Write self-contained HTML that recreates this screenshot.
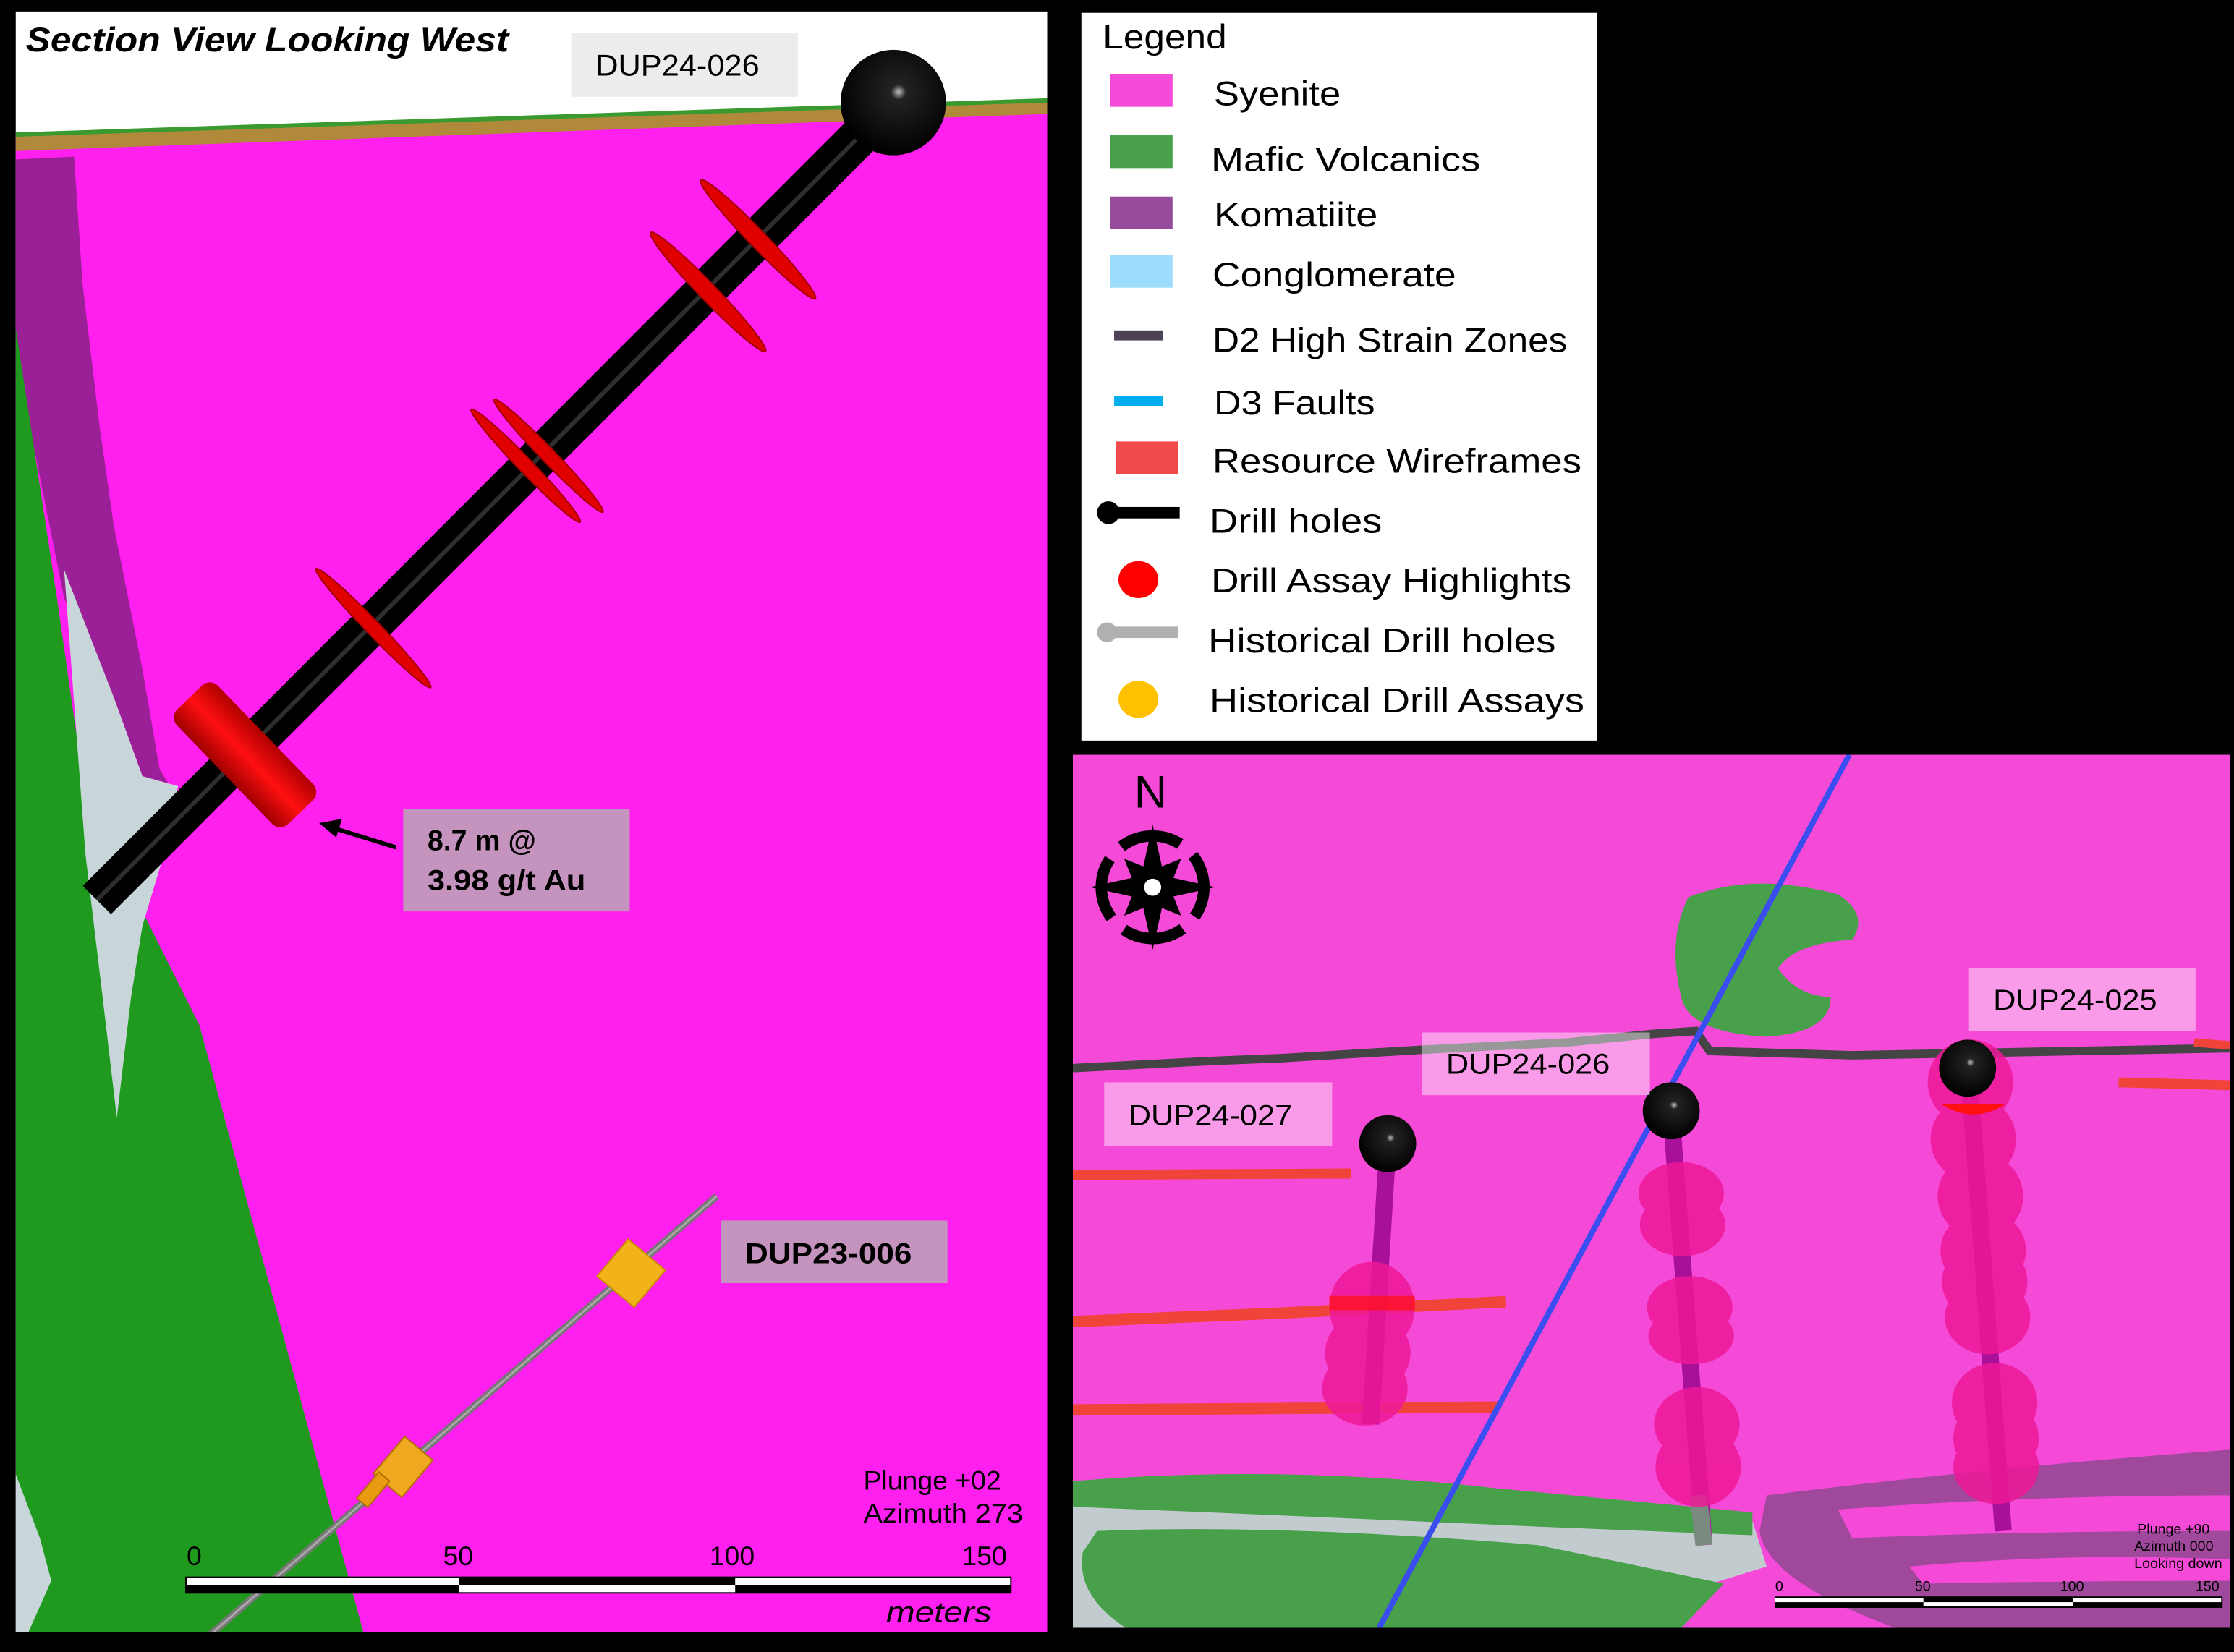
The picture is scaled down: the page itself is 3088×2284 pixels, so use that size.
<!DOCTYPE html>
<html><head><meta charset="utf-8"><style>
html,body{margin:0;padding:0;background:#000;width:3088px;height:2284px;overflow:hidden}
svg{display:block}
text{font-family:"Liberation Sans",sans-serif}
</style></head><body>
<svg width="3088" height="2284" viewBox="0 0 1568 1160" preserveAspectRatio="none" xmlns="http://www.w3.org/2000/svg">
<defs>
<clipPath id="lc"><rect x="11" y="8" width="724" height="1138"/></clipPath>
<clipPath id="rc"><rect x="753" y="530" width="812" height="613"/></clipPath>
<radialGradient id="ball" cx="0.55" cy="0.4" r="0.6"><stop offset="0" stop-color="#bbb"/><stop offset="0.12" stop-color="#222"/><stop offset="1" stop-color="#000"/></radialGradient>
<linearGradient id="disc" x1="0" y1="0" x2="0" y2="1"><stop offset="0" stop-color="#b00000"/><stop offset="0.5" stop-color="#ff1010"/><stop offset="1" stop-color="#a00000"/></linearGradient>
</defs>
<rect width="1568" height="1160" fill="#000"/>
<!-- LEFT PANEL -->
<g clip-path="url(#lc)">
<rect x="11" y="8" width="724" height="1138" fill="#fff"/>
<polygon points="11,96 735,70 735,1146 11,1146" fill="#ff1fee"/>
<polygon points="11,94 735,70 735,80 11,106" fill="#b08a3a"/>
<polygon points="11,93 735,69 735,72 11,96" fill="#3a9a30"/>
<polygon points="11,112 52,110 58,200 70,300 80,370 100,470 112,540 118,550 100,545 80,490 45,420 25,320 11,250" fill="#9b1f96"/>
<polygon points="11,230 40,420 60,560 100,640 140,720 255,1146 11,1146" fill="#1f9a1f"/>
<polygon points="45,400 80,490 100,545 125,552 115,600 100,650 92,700 82,785 72,700 60,600" fill="#c8d6da"/>
<polygon points="11,1035 28,1080 36,1110 20,1146 11,1146" fill="#c8d6da"/>
<!-- historical hole -->
<line x1="503" y1="840" x2="145" y2="1150" stroke="#777" stroke-width="5"/>
<line x1="503" y1="840" x2="145" y2="1150" stroke="#aaa" stroke-width="1.5"/>
<rect x="-17" y="-17" width="34" height="34" fill="#f2b21a" stroke="#c88a00" transform="translate(443,894) rotate(40)"/>
<rect x="-13" y="-17" width="26" height="34" fill="#f0a820" stroke="#b07000" transform="translate(283,1030) rotate(40)"/>
<rect x="-5" y="-12" width="10" height="24" fill="#e89a10" stroke="#b07000" transform="translate(262,1046) rotate(40)"/>
<!-- drill hole -->
<line x1="627" y1="72" x2="68" y2="632" stroke="#000" stroke-width="28"/>
<line x1="627" y1="72" x2="68" y2="632" stroke="#3a3a3a" stroke-width="3" opacity="0.8"/>
<g fill="#e00000" stroke="#a00000" stroke-width="1">
<ellipse cx="532" cy="168" rx="58" ry="6" transform="rotate(46 532 168)"/>
<ellipse cx="497" cy="205" rx="58" ry="6" transform="rotate(46 497 205)"/>
<ellipse cx="385" cy="320" rx="55" ry="5" transform="rotate(46 385 320)"/>
<ellipse cx="369" cy="327" rx="55" ry="5" transform="rotate(46 369 327)"/>
<ellipse cx="262" cy="441" rx="58" ry="5" transform="rotate(46 262 441)"/>
</g>
<rect x="-56" y="-20" width="112" height="40" rx="8" fill="url(#disc)" transform="translate(172,530) rotate(46)"/>
<circle cx="627" cy="72" r="37" fill="url(#ball)"/>
<!-- labels -->
<text x="18" y="36" font-size="24" font-weight="bold" font-style="italic" fill="#000" textLength="339" lengthAdjust="spacingAndGlyphs">Section View Looking West</text>
<rect x="401" y="23" width="159" height="45" fill="#ececec"/>
<text x="418" y="53" font-size="21" fill="#000" textLength="115" lengthAdjust="spacingAndGlyphs">DUP24-026</text>
<rect x="283" y="568" width="159" height="72" fill="#c493be"/>
<text x="300" y="597" font-size="20" font-weight="bold" fill="#000">8.7 m @</text>
<text x="300" y="625" font-size="20" font-weight="bold" fill="#000" textLength="111" lengthAdjust="spacingAndGlyphs">3.98 g/t Au</text>
<line x1="278" y1="595" x2="236" y2="582" stroke="#000" stroke-width="3"/>
<polygon points="224,578 240,575 236,588" fill="#000"/>
<rect x="506" y="857" width="159" height="44" fill="#c493be"/>
<text x="523" y="887" font-size="20" font-weight="bold" fill="#000" textLength="117" lengthAdjust="spacingAndGlyphs">DUP23-006</text>
<text x="606" y="1046" font-size="19" fill="#000">Plunge +02</text>
<text x="606" y="1069" font-size="19" fill="#000" textLength="112" lengthAdjust="spacingAndGlyphs">Azimuth 273</text>
<text x="131" y="1099" font-size="19" fill="#000">0</text>
<text x="311" y="1099" font-size="19" fill="#000">50</text>
<text x="498" y="1099" font-size="19" fill="#000">100</text>
<text x="675" y="1099" font-size="19" fill="#000">150</text>
<rect x="130" y="1107" width="580" height="12" fill="#000"/>
<rect x="131" y="1108" width="191" height="5" fill="#fff"/>
<rect x="322" y="1113" width="194" height="5" fill="#fff"/>
<rect x="516" y="1108" width="193" height="5" fill="#fff"/>
<text x="622" y="1139" font-size="20" font-style="italic" fill="#000" textLength="74" lengthAdjust="spacingAndGlyphs">meters</text>
</g>
<!-- LEGEND -->
<rect x="759" y="9" width="362" height="511" fill="#fff"/>
<g font-size="24" fill="#000" lengthAdjust="spacingAndGlyphs">
<text x="774" y="34" textLength="87" lengthAdjust="spacingAndGlyphs">Legend</text>
<rect x="779" y="52" width="44" height="23" fill="#f54ad8"/><text x="852" y="74" textLength="89" lengthAdjust="spacingAndGlyphs">Syenite</text>
<rect x="779" y="95" width="44" height="23" fill="#48a04a"/><text x="850" y="120" textLength="189" lengthAdjust="spacingAndGlyphs">Mafic Volcanics</text>
<rect x="779" y="138" width="44" height="23" fill="#964c9b"/><text x="852" y="159" textLength="115" lengthAdjust="spacingAndGlyphs">Komatiite</text>
<rect x="779" y="179" width="44" height="23" fill="#9ddcfb"/><text x="851" y="201" textLength="171" lengthAdjust="spacingAndGlyphs">Conglomerate</text>
<rect x="782" y="232" width="34" height="7" fill="#4d4155"/><text x="851" y="247" textLength="249" lengthAdjust="spacingAndGlyphs">D2 High Strain Zones</text>
<rect x="782" y="278" width="34" height="7" fill="#00adef"/><text x="852" y="291" textLength="113" lengthAdjust="spacingAndGlyphs">D3 Faults</text>
<rect x="783" y="310" width="44" height="23" fill="#f04a4a"/><text x="851" y="332" textLength="259" lengthAdjust="spacingAndGlyphs">Resource Wireframes</text>
<circle cx="778" cy="360" r="8" fill="#000"/><rect x="778" y="356" width="50" height="8" fill="#000"/><text x="849" y="374" textLength="121" lengthAdjust="spacingAndGlyphs">Drill holes</text>
<ellipse cx="799" cy="407" rx="14" ry="13" fill="#f00"/><text x="850" y="416" textLength="253" lengthAdjust="spacingAndGlyphs">Drill Assay Highlights</text>
<circle cx="777" cy="444" r="7" fill="#b0b0b0"/><rect x="777" y="440" width="50" height="8" fill="#b0b0b0"/><text x="848" y="458" textLength="244" lengthAdjust="spacingAndGlyphs">Historical Drill holes</text>
<ellipse cx="799" cy="491" rx="14" ry="13" fill="#ffc000"/><text x="849" y="500" textLength="263" lengthAdjust="spacingAndGlyphs">Historical Drill Assays</text>
</g>
<!-- RIGHT PANEL -->
<g clip-path="url(#rc)">
<rect x="753" y="530" width="812" height="613" fill="#f54ad8"/>
<path d="M753,1040 Q900,1030 1020,1050 L1230,1068 L1240,1100 L1100,1143 L753,1143 Z" fill="#c2ccce"/>
<path d="M753,1040 Q900,1028 1050,1045 L1230,1062 L1230,1078 L1080,1072 Q900,1064 753,1058 Z" fill="#48a04a"/>
<path d="M770,1075 Q900,1070 1080,1085 L1210,1112 L1180,1143 L790,1143 Q755,1120 760,1090 Z" fill="#48a04a"/>
<path d="M1240,1050 Q1400,1030 1565,1018 L1565,1143 L1330,1143 Q1240,1110 1235,1075 Z" fill="#a0489c"/>
<path d="M1290,1060 Q1420,1050 1565,1050 L1565,1075 Q1420,1075 1300,1080 Z" fill="#f54ad8"/>
<path d="M1340,1100 Q1450,1090 1565,1095 L1565,1110 Q1450,1110 1350,1112 Z" fill="#f54ad8"/>
<path d="M1185,630 Q1230,612 1290,628 Q1312,642 1300,660 Q1260,662 1248,680 Q1262,700 1285,700 Q1285,725 1240,728 Q1185,725 1180,700 Q1170,660 1185,630 Z" fill="#48a04a"/>
<polyline points="753,750 850,745 900,743 950,740 1000,737 1100,732 1160,726 1190,724 1200,738 1300,741 1565,736" fill="none" stroke="#444" stroke-width="6"/>
<line x1="753" y1="825" x2="948" y2="824" stroke="#f0443a" stroke-width="7"/>
<polyline points="753,928 900,922 1057,914" fill="none" stroke="#f0443a" stroke-width="8"/>
<line x1="753" y1="990" x2="1052" y2="988" stroke="#f0443a" stroke-width="8"/>
<line x1="1487" y1="760" x2="1565" y2="762" stroke="#f0443a" stroke-width="7"/>
<line x1="1540" y1="732" x2="1565" y2="734" stroke="#f0443a" stroke-width="6"/>
<line x1="1298" y1="530" x2="968" y2="1143" stroke="#3a4ef0" stroke-width="4"/>
<line x1="974" y1="805" x2="962" y2="1000" stroke="#a8109a" stroke-width="12"/>
<g fill="#ee1898" opacity="0.85">
<ellipse cx="963" cy="918" rx="30" ry="32"/>
<ellipse cx="960" cy="950" rx="30" ry="28"/>
<ellipse cx="958" cy="975" rx="30" ry="26"/>
</g>
<rect x="933" y="910" width="60" height="10" fill="#ff1020" opacity="0.8"/>
<circle cx="974" cy="803" r="20" fill="url(#ball)"/>
<line x1="1173" y1="782" x2="1196" y2="1085" stroke="#a8109a" stroke-width="12"/>
<line x1="1192" y1="1050" x2="1196" y2="1085" stroke="#7a8a80" stroke-width="12"/>
<g fill="#ee1898" opacity="0.85">
<ellipse cx="1180" cy="838" rx="30" ry="22"/>
<ellipse cx="1181" cy="860" rx="30" ry="22"/>
<ellipse cx="1186" cy="918" rx="30" ry="22"/>
<ellipse cx="1187" cy="938" rx="30" ry="20"/>
<ellipse cx="1191" cy="1000" rx="30" ry="26"/>
<ellipse cx="1192" cy="1030" rx="30" ry="28"/>
</g>
<circle cx="1173" cy="780" r="20" fill="url(#ball)"/>
<line x1="1382" y1="755" x2="1406" y2="1075" stroke="#a8109a" stroke-width="12"/>
<g fill="#ee1898" opacity="0.85">
<ellipse cx="1383" cy="760" rx="30" ry="30"/>
<ellipse cx="1385" cy="800" rx="30" ry="30"/>
<ellipse cx="1390" cy="840" rx="30" ry="30"/>
<ellipse cx="1392" cy="878" rx="30" ry="28"/>
<ellipse cx="1393" cy="900" rx="30" ry="28"/>
<ellipse cx="1395" cy="925" rx="30" ry="26"/>
<ellipse cx="1400" cy="985" rx="30" ry="28"/>
<ellipse cx="1401" cy="1010" rx="30" ry="28"/>
<ellipse cx="1401" cy="1030" rx="30" ry="26"/>
</g>
<path d="M1362,775 Q1385,790 1408,775 Z" fill="#ff1010"/>
<circle cx="1381" cy="750" r="20" fill="url(#ball)"/>
<g fill="#fff" opacity="0.45">
<rect x="775" y="760" width="160" height="45"/>
<rect x="998" y="725" width="160" height="44"/>
<rect x="1382" y="680" width="159" height="44"/>
</g>
<g font-size="20" fill="#000">
<text x="792" y="790" textLength="115" lengthAdjust="spacingAndGlyphs">DUP24-027</text>
<text x="1015" y="754" textLength="115" lengthAdjust="spacingAndGlyphs">DUP24-026</text>
<text x="1399" y="709" textLength="115" lengthAdjust="spacingAndGlyphs">DUP24-025</text>
</g>
<text x="796" y="567" font-size="32" fill="#000">N</text>
<g transform="translate(809,623)">
<circle r="36" fill="none" stroke="#000" stroke-width="8" stroke-dasharray="44 12" stroke-dashoffset="22"/>
<polygon points="0,-44 8,-8 44,0 8,8 0,44 -8,8 -44,0 -8,-8" fill="#000"/>
<polygon points="0,-12 20,-20 12,0 20,20 0,12 -20,20 -12,0 -20,-20" fill="#000"/>
<circle r="6" fill="#fff"/>
</g>
<g font-size="10" fill="#000">
<text x="1500" y="1077">Plunge +90</text>
<text x="1498" y="1089">Azimuth 000</text>
<text x="1498" y="1101">Looking down</text>
<text x="1246" y="1117">0</text>
<text x="1344" y="1117">50</text>
<text x="1446" y="1117">100</text>
<text x="1541" y="1117">150</text>
</g>
<rect x="1246" y="1121" width="314" height="8" fill="#000"/>
<rect x="1246" y="1122" width="104" height="3" fill="#fff"/>
<rect x="1350" y="1125" width="105" height="3" fill="#fff"/>
<rect x="1455" y="1122" width="104" height="3" fill="#fff"/>
</g>
</svg>
</body></html>
